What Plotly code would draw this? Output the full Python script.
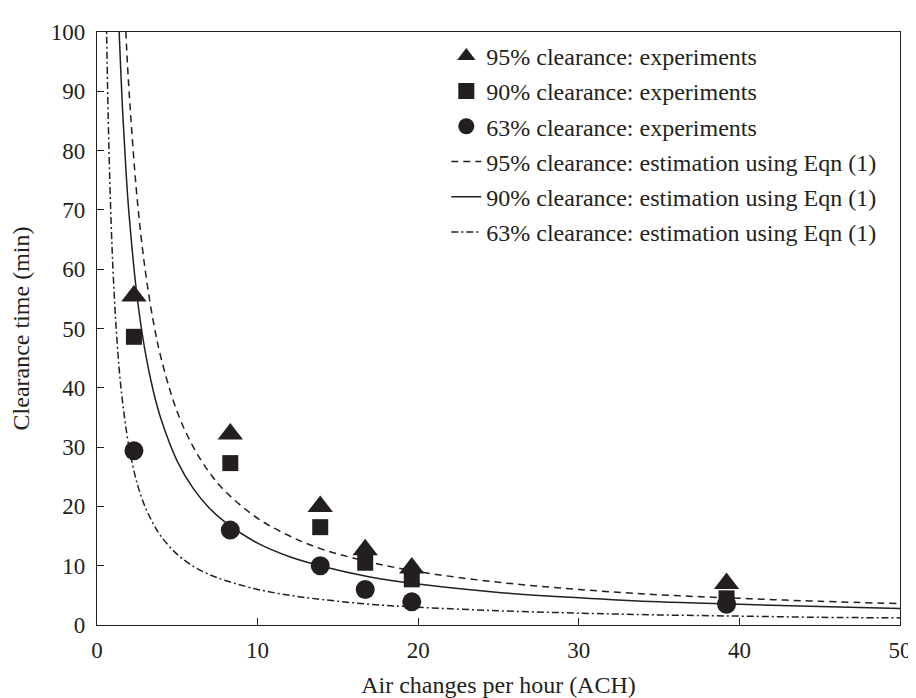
import plotly.graph_objects as go

ach_exp = [2.3, 8.3, 13.9, 16.7, 19.6, 39.2]
t95_exp = [55.5, 32.2, 20.0, 12.7, 9.6, 7.0]
t90_exp = [48.6, 27.3, 16.5, 10.5, 7.7, 4.5]
t63_exp = [29.4, 16.0, 10.0, 6.0, 3.9, 3.5]

# Estimation curves
ach_95 = [1.4, 1.6, 1.8, 2.0, 2.5, 3, 3.5, 4, 5, 6, 7, 8, 10, 12, 14, 17, 20, 25, 30, 35, 40, 45, 50]
t95_est = [128.4, 112.3, 99.8, 89.9, 71.9, 59.9, 51.3, 44.9, 35.9, 30.0, 25.7, 22.5, 18.0, 15.0,
           12.8, 10.6, 9.0, 7.2, 6.0, 5.1, 4.5, 4.0, 3.6]
ach_90 = [1.2, 1.3, 1.4, 1.6, 1.8, 2.0, 2.5, 3, 3.5, 4, 5, 6, 7, 8, 10, 12, 14, 17, 20, 25, 30, 35, 40, 45, 50]
t90_est = [115.2, 106.3, 98.7, 86.4, 76.8, 69.1, 55.3, 46.1, 39.5, 34.6, 27.6, 23.0, 19.7, 17.3,
           13.8, 11.5, 9.9, 8.1, 6.9, 5.5, 4.6, 3.9, 3.5, 3.1, 2.8]
ach_63 = [0.5, 0.55, 0.6, 0.7, 0.8, 0.9, 1.0, 1.2, 1.5, 2.0, 2.5, 3, 3.5, 4, 5, 6, 7, 8, 10, 12, 14,
          17, 20, 25, 30, 35, 40, 45, 50]
t63_est = [119.4, 108.5, 99.5, 85.3, 74.6, 66.3, 59.7, 49.8, 39.8, 29.9, 23.9, 19.9, 17.1, 14.9,
           11.9, 9.9, 8.5, 7.5, 6.0, 5.0, 4.3, 3.5, 3.0, 2.4, 2.0, 1.7, 1.5, 1.3, 1.2]

INK = "#231f20"
FONT = "Liberation Serif"

fig = go.Figure()

fig.add_trace(go.Scatter(x=ach_95, y=t95_est, mode="lines", line_shape="spline",
                         line=dict(color=INK, width=1.5, dash="7px,5px"),
                         name="95% clearance: estimation using Eqn (1)",
                         legendgroup="d", legendrank=4))
fig.add_trace(go.Scatter(x=ach_90, y=t90_est, mode="lines", line_shape="spline",
                         line=dict(color=INK, width=1.5),
                         name="90% clearance: estimation using Eqn (1)",
                         legendgroup="e", legendrank=5))
fig.add_trace(go.Scatter(x=ach_63, y=t63_est, mode="lines", line_shape="spline",
                         line=dict(color=INK, width=1.5, dash="7px,3px,2px,3px"),
                         name="63% clearance: estimation using Eqn (1)",
                         legendgroup="f", legendrank=6))

fig.add_trace(go.Scatter(x=ach_exp, y=t95_exp, mode="markers",
                         marker=dict(symbol="triangle-up", size=22, color=INK),
                         name="95% clearance: experiments", legendgroup="a", legendrank=1))
fig.add_trace(go.Scatter(x=ach_exp, y=t90_exp, mode="markers",
                         marker=dict(symbol="square", size=16, color=INK),
                         name="90% clearance: experiments", legendgroup="b", legendrank=2))
fig.add_trace(go.Scatter(x=ach_exp, y=t63_exp, mode="markers",
                         marker=dict(symbol="circle", size=19, color=INK),
                         name="63% clearance: experiments", legendgroup="c", legendrank=3))

axis_common = dict(showline=True, linecolor=INK, linewidth=1.3, mirror=True,
                   ticks="inside", ticklen=7, tickwidth=1.2, tickcolor=INK,
                   showgrid=False, zeroline=False,
                   tickfont=dict(family=FONT, size=23, color=INK))

fig.update_xaxes(range=[0, 50], dtick=10, tick0=0,
                 title=dict(text="Air changes per hour (ACH)", standoff=14,
                            font=dict(family=FONT, size=24, color=INK)),
                 ticklabelstandoff=4, **axis_common)
fig.update_yaxes(range=[0, 100], dtick=10, tick0=0,
                 title=dict(text="Clearance time (min)", standoff=14,
                            font=dict(family=FONT, size=24, color=INK)),
                 ticklabelstandoff=6, **axis_common)

fig.update_layout(
    width=916, height=698,
    margin=dict(l=87, r=13, t=20, b=68),
    plot_bgcolor="white", paper_bgcolor="white",
    font=dict(family=FONT, size=23, color=INK),
    showlegend=True,
    legend=dict(x=0.435, y=0.997, xanchor="left", yanchor="top",
                traceorder="grouped", tracegroupgap=1,
                bgcolor="rgba(0,0,0,0)", borderwidth=0,
                font=dict(family=FONT, size=24, color=INK)),
)

fig.write_html("out.html")
